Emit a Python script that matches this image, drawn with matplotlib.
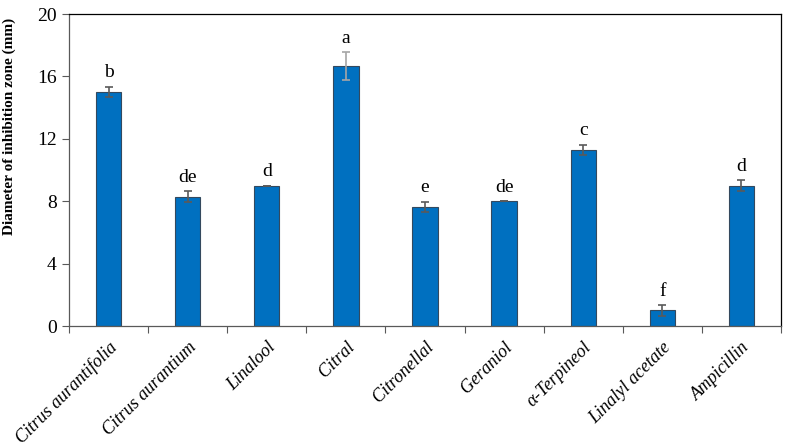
import matplotlib
matplotlib.use('Agg')
import matplotlib.pyplot as plt
import numpy as np

# --- Data ---
samples = ['Citrus aurantifolia', 'Citrus aurantium', 'Linalool', 'Citral', 'Citronellal',
           'Geraniol', 'α-Terpineol', 'Linalyl acetate', 'Ampicillin']
zone_mm = [15.0, 8.3, 9.0, 16.65, 7.65, 8.0, 11.3, 1.0, 9.0]
zone_err = [0.35, 0.33, 0.0, 0.9, 0.33, 0.0, 0.33, 0.33, 0.33]
groups = ['b', 'de', 'd', 'a', 'e', 'de', 'c', 'f', 'd']

plt.rcParams['font.family'] = ['Liberation Serif', 'DejaVu Serif']

fig = plt.figure(figsize=(7.87, 4.48), dpi=100)
ax = fig.add_axes([0.0877, 0.2723, 0.9047, 0.6964])

x = np.arange(len(samples))
ax.bar(x, zone_mm, width=0.32, color='#0070C0', edgecolor='#34495E', linewidth=0.8, zorder=2)

err_colors = ['#5A5A5A'] * len(samples)
err_colors[3] = '#A6A6A6'
for i in range(len(samples)):
    ax.errorbar(x[i], zone_mm[i], yerr=zone_err[i], fmt='none', ecolor=err_colors[i],
                elinewidth=1.2, capsize=3, capthick=1.2, zorder=3)
    ax.annotate(groups[i], (x[i], zone_mm[i] + zone_err[i]), xytext=(0, 4),
                textcoords='offset points', ha='center', va='bottom', fontsize=14)

ax.set_xlim(-0.5, len(samples) - 0.5)
ax.set_ylim(0, 20)
ax.set_yticks(range(0, 21, 4))
ax.tick_params(axis='y', direction='out', length=5, width=0.8, labelsize=14, colors='#595959',
               labelcolor='black', pad=4)

# category ticks sit on the boundaries, labels at the centres
ax.set_xticks(np.arange(len(samples) + 1) - 0.5)
ax.set_xticklabels([])
ax.set_xticks(x, minor=True)
ax.set_xticklabels(samples, minor=True, rotation=45, ha='right', rotation_mode='anchor',
                   fontsize=13, style='italic')
ax.tick_params(axis='x', which='major', direction='out', length=5, width=0.8, colors='#595959')
ax.tick_params(axis='x', which='minor', length=0, pad=9)

for s in ['left', 'bottom']:
    ax.spines[s].set_color('#595959')
for s in ['top', 'right']:
    ax.spines[s].set_color('black')
for s in ax.spines.values():
    s.set_linewidth(0.9)

ax.set_ylabel('Diameter of inhibition zone (mm)', fontsize=11, fontweight='bold')
ax.yaxis.set_label_coords(-0.074, 0.64)

fig.savefig('out.png', dpi=100)
